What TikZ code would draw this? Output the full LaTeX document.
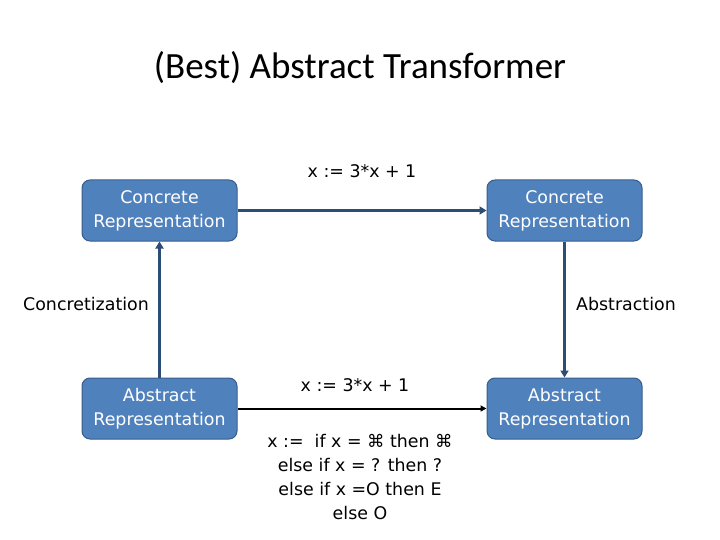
\documentclass[tikz,border=0pt]{standalone}
\usepackage{fontspec}
\setmainfont{DejaVu Sans}
\newfontfamily\titlefont{Carlito}
\usetikzlibrary{arrows.meta}
\definecolor{boxfill}{HTML}{4F81BD}
\definecolor{boxline}{HTML}{385D8A}
\definecolor{arrowblue}{HTML}{2C4D75}
\tikzset{
  repbox/.style={draw=boxline, line width=1pt, fill=boxfill, rounded corners=8pt,
    minimum width=155pt, minimum height=61pt, text=white, align=center,
    font=\fontsize{17.4}{24}\selectfont, inner sep=0pt},
  lbl/.style={align=center, font=\fontsize{17.4}{24}\selectfont, inner sep=0pt},
  bluearrow/.style={draw=arrowblue, line width=3pt, -{Triangle[length=7pt,width=8pt]}},
  blackarrow/.style={draw=black, line width=2pt, -{Triangle[length=6pt,width=6pt]}}
}
\begin{document}
\begin{tikzpicture}[x=1pt,y=-1pt]
\useasboundingbox (0,0) rectangle (720,540);
\node[font=\titlefont\fontsize{37}{42}\selectfont] (title) at (360,68) {(Best) Abstract Transformer};
\node[repbox] (cTL) at (159.5,210.5) {Concrete\\Representation};
\node[repbox] (cTR) at (564.5,210.5) {Concrete\\Representation};
\node[repbox] (aBL) at (159.5,408.5) {Abstract\\Representation};
\node[repbox] (aBR) at (564.5,408.5) {Abstract\\Representation};
\node[lbl] (topop) at (362,171) {x := 3*x + 1};
\node[lbl] (conc) at (86,304) {Concretization};
\node[lbl] (abst) at (626,304) {Abstraction};
\node[lbl] (botop) at (355,385) {x := 3*x + 1};
\node[lbl] (bestop) at (360,477) {x :=\ \ if x = ⌘ then ⌘\\else if x = ? then ?\\else if x =O then E\\else O};
\draw[bluearrow] (cTL.east) -- (cTR.west);
\draw[bluearrow] (aBL.north) -- (cTL.south);
\draw[bluearrow] (cTR.south) -- (aBR.north);
\draw[blackarrow] (aBL.east) -- (aBR.west);
\end{tikzpicture}
\end{document}
